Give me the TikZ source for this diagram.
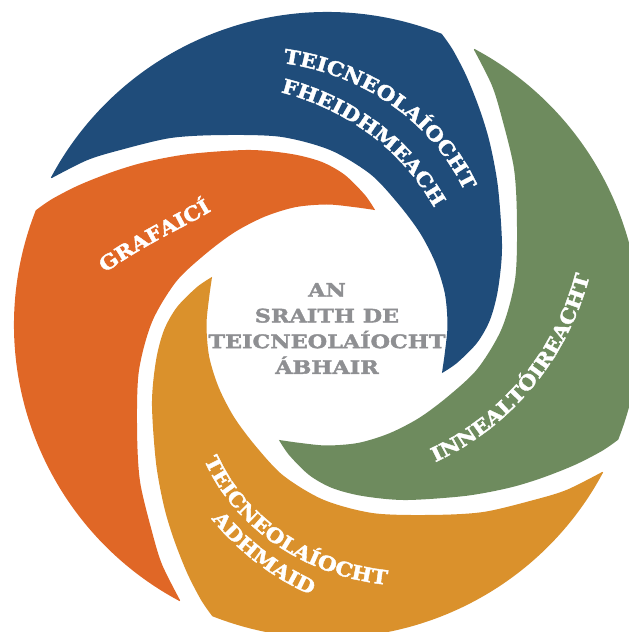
\documentclass[tikz,border=0pt]{standalone}
\usepackage{fontspec}
\newfontfamily\slabfont[FakeStretch=1.2, BoldFeatures={FakeBold=2}]{DejaVu Serif}
\newfontfamily\bladefont[FakeStretch=1.1, BoldFeatures={FakeBold=2}]{DejaVu Serif}
\usetikzlibrary{decorations.text}
\definecolor{bladeblue}{RGB}{31,76,122}
\definecolor{bladeorange}{RGB}{224,103,38}
\definecolor{bladegreen}{RGB}{110,139,94}
\definecolor{bladegold}{RGB}{218,145,44}
\definecolor{titlegrey}{RGB}{142,143,146}
\newcommand{\titlefont}{\slabfont\bfseries\fontsize{4.65}{6.425}\selectfont}
\newcommand{\labelfont}{\bladefont\bfseries\fontsize{4.95}{6.4}\selectfont}
\newcommand{\bladeshape}{(68.5:313) arc[start angle=68.5, end angle=151.9, radius=313]
	-- plot[smooth] coordinates {(151.9:312) (145.5:291) (139.8:271) (130:244) (119.4:218) (104:194) (89:175) (74:157) (60:141) (45:131) (30:125) (15:122) (0:120.5) (-13:121) (-22.7:124.6)}
	-- plot[smooth] coordinates {(-22.7:124.6) (-16.3:135.4) (-6.8:151.1) (1.8:163.1) (11.6:174.5) (24:191.6) (38.9:219.7) (48.2:244.3) (54.6:263.9) (60.6:284.8) (65.4:302.5) (68.5:313)}
	-- cycle}
\tikzset{bladelabel/.style={decorate, decoration={text along path, text align=center, text color=white, text={|\labelfont|#1}}}}

\begin{document}
\begin{tikzpicture}[x=0.25pt, y=0.25pt]
	\useasboundingbox (-327,-307) rectangle (302,325);
	\fill[bladeblue] \bladeshape;
	\fill[bladeorange, rotate=90] \bladeshape;
	\fill[bladegold, rotate=180] \bladeshape;
	\fill[bladegreen, rotate=270] \bladeshape;
	\node[align=center, text=titlegrey, font=\titlefont] (T_centre) at (0,-3.5) {AN\\SRAITH DE\\TEICNEOLAÍOCHT\\ÁBHAIR};
	\path[bladelabel=TEICNEOLAÍOCHT] plot[domain=104:38, samples=40, variable=\t] (\t:{226.4+1.336*(\t-71.6)+0.00241*(\t-71.6)^2});
	\path[bladelabel=FHEIDHMEACH] plot[domain=104:43, samples=40, variable=\t] (\t:{193.4+1.497*(\t-76.1)+0.00993*(\t-76.1)^2});
	\path[bladelabel=GRAFAICÍ] plot[domain=170:129, samples=40, variable=\t] (\t:{186.1+2.158*(\t-151.9)+0.0442*(\t-151.9)^2});
	\path[bladelabel=INNEALTÓIREACHT] plot[domain=-58.5:14.5, samples=40, variable=\t] (\t:{211.3+1.521*(\t+19.1)+0.01236*(\t+19.1)^2});
	\path[bladelabel=TEICNEOLAÍOCHT] plot[domain=-139:-72.5, samples=40, variable=\t] (\t:{219.2+1.5107*(\t+107.3)+0.001824*(\t+107.3)^2});
	\path[bladelabel=ADHMAID] plot[domain=-125:-90, samples=30, variable=\t] (\t:{245.6+1.6326*(\t+107.9)+0.005852*(\t+107.9)^2});
\end{tikzpicture}
\end{document}
